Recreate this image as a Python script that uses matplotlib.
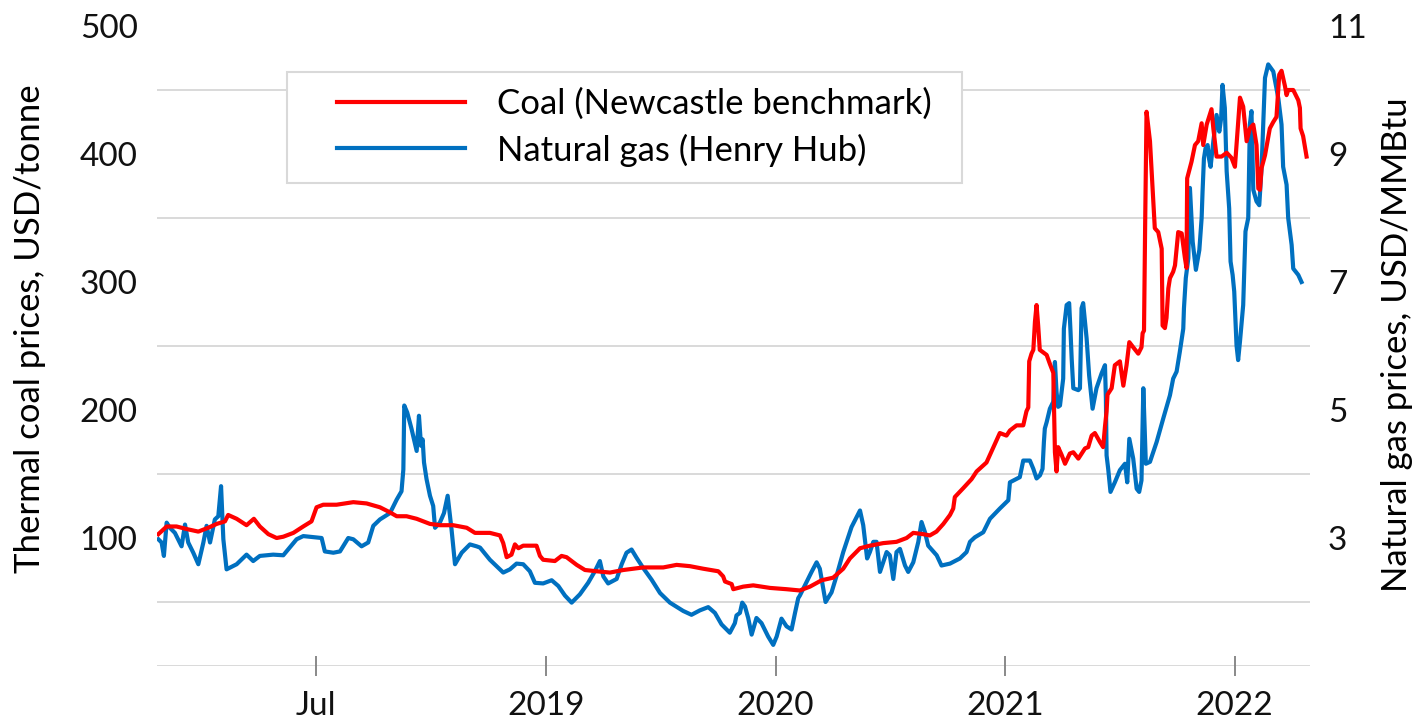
import matplotlib
matplotlib.use("Agg")
import matplotlib.pyplot as plt
from matplotlib.lines import Line2D
from matplotlib.patches import Rectangle
from matplotlib.ticker import FixedLocator

plt.rcParams['font.family'] = ['Lato', 'DejaVu Sans']

# ---------------- data ----------------
gas_year = [
    2017.312, 2017.326, 2017.336, 2017.348, 2017.362, 2017.384, 2017.413, 2017.428, 2017.442, 2017.464,
    2017.486, 2017.508, 2017.522, 2017.537, 2017.558, 2017.573, 2017.585, 2017.595, 2017.609, 2017.653,
    2017.696, 2017.725, 2017.754, 2017.812, 2017.856, 2017.914, 2017.943, 2018.023, 2018.037, 2018.074,
    2018.103, 2018.139, 2018.161, 2018.197, 2018.226, 2018.248, 2018.277, 2018.321, 2018.350, 2018.371,
    2018.379, 2018.383, 2018.396, 2018.415, 2018.437, 2018.447, 2018.456, 2018.463, 2018.469, 2018.480,
    2018.495, 2018.509, 2018.517, 2018.538, 2018.556, 2018.572, 2018.589, 2018.604, 2018.633, 2018.669,
    2018.698, 2018.713, 2018.756, 2018.814, 2018.843, 2018.872, 2018.901, 2018.930, 2018.952, 2018.988,
    2019.025, 2019.054, 2019.083, 2019.112, 2019.148, 2019.184, 2019.213, 2019.235, 2019.250, 2019.271,
    2019.308, 2019.330, 2019.351, 2019.373, 2019.395, 2019.424, 2019.460, 2019.497, 2019.540, 2019.598,
    2019.634, 2019.671, 2019.707, 2019.736, 2019.765, 2019.801, 2019.823, 2019.830, 2019.845, 2019.855,
    2019.867, 2019.881, 2019.896, 2019.917, 2019.939, 2019.968, 2019.990, 2020.005, 2020.026, 2020.048,
    2020.070, 2020.085, 2020.099, 2020.106, 2020.135, 2020.157, 2020.179, 2020.193, 2020.208, 2020.218,
    2020.244, 2020.266, 2020.295, 2020.331, 2020.368, 2020.382, 2020.399, 2020.411, 2020.426, 2020.440,
    2020.455, 2020.469, 2020.484, 2020.498, 2020.513, 2020.527, 2020.542, 2020.564, 2020.578, 2020.600,
    2020.622, 2020.636, 2020.651, 2020.665, 2020.702, 2020.723, 2020.760, 2020.803, 2020.832, 2020.847,
    2020.868, 2020.905, 2020.934, 2020.977, 2021.014, 2021.021, 2021.064, 2021.079, 2021.108, 2021.123,
    2021.137, 2021.152, 2021.163, 2021.169, 2021.173, 2021.181, 2021.195, 2021.210, 2021.217, 2021.224,
    2021.231, 2021.239, 2021.253, 2021.256, 2021.268, 2021.279, 2021.285, 2021.290, 2021.297, 2021.319,
    2021.326, 2021.333, 2021.340, 2021.355, 2021.366, 2021.381, 2021.398, 2021.420, 2021.435, 2021.439,
    2021.442, 2021.449, 2021.459, 2021.478, 2021.500, 2021.522, 2021.532, 2021.541, 2021.558, 2021.573,
    2021.584, 2021.594, 2021.602, 2021.613, 2021.631, 2021.660, 2021.689, 2021.718, 2021.732, 2021.747,
    2021.761, 2021.776, 2021.779, 2021.787, 2021.798, 2021.805, 2021.817, 2021.831, 2021.846, 2021.856,
    2021.860, 2021.866, 2021.873, 2021.882, 2021.888, 2021.895, 2021.907, 2021.921, 2021.933, 2021.941,
    2021.947, 2021.957, 2021.965, 2021.976, 2021.982, 2021.991, 2021.998, 2022.008, 2022.015, 2022.023,
    2022.037, 2022.047, 2022.059, 2022.066, 2022.073, 2022.081, 2022.095, 2022.107, 2022.117, 2022.132,
    2022.146, 2022.168, 2022.190, 2022.204, 2022.211, 2022.226, 2022.233, 2022.248, 2022.255, 2022.277,
    2022.291,
]
gas_price = [
    2.98, 2.93, 2.72, 3.24, 3.16, 3.08, 2.87, 3.21, 2.93, 2.77,
    2.59, 2.93, 3.19, 2.93, 3.29, 3.34, 3.81, 2.98, 2.51, 2.59,
    2.74, 2.64, 2.72, 2.74, 2.73, 2.98, 3.03, 3.00, 2.79, 2.77,
    2.79, 3.00, 2.98, 2.87, 2.93, 3.19, 3.29, 3.39, 3.60, 3.73,
    4.07, 5.07, 4.96, 4.70, 4.36, 4.91, 4.44, 4.54, 4.18, 3.92,
    3.66, 3.50, 3.16, 3.24, 3.39, 3.66, 3.13, 2.59, 2.77, 2.90,
    2.87, 2.85, 2.66, 2.46, 2.51, 2.60, 2.59, 2.48, 2.30, 2.29,
    2.34, 2.25, 2.10, 1.99, 2.12, 2.30, 2.48, 2.64, 2.40, 2.29,
    2.36, 2.59, 2.77, 2.82, 2.69, 2.53, 2.35, 2.14, 1.99, 1.86,
    1.80, 1.87, 1.92, 1.83, 1.65, 1.52, 1.67, 1.79, 1.83, 1.99,
    1.93, 1.75, 1.49, 1.75, 1.67, 1.46, 1.33, 1.46, 1.74, 1.62,
    1.57, 1.83, 2.06, 2.10, 2.31, 2.47, 2.62, 2.52, 2.21, 2.00,
    2.15, 2.41, 2.78, 3.17, 3.43, 3.20, 2.68, 2.78, 2.94, 2.94,
    2.47, 2.62, 2.78, 2.73, 2.36, 2.78, 2.83, 2.57, 2.47, 2.62,
    2.94, 3.25, 3.09, 2.88, 2.73, 2.57, 2.60, 2.68, 2.78, 2.94,
    3.01, 3.09, 3.30, 3.46, 3.59, 3.87, 3.95, 4.21, 4.21, 4.08,
    3.93, 3.98, 4.08, 4.50, 4.71, 4.81, 5.02, 5.13, 5.75, 5.28,
    5.05, 5.07, 5.49, 6.27, 6.64, 6.67, 6.22, 5.80, 5.34, 5.31,
    5.34, 6.59, 6.67, 6.12, 5.54, 5.02, 5.34, 5.57, 5.70, 5.18,
    4.29, 4.08, 3.72, 3.87, 4.06, 4.16, 3.87, 4.55, 4.24, 3.77,
    3.72, 3.90, 5.34, 4.16, 4.19, 4.50, 4.87, 5.23, 5.49, 5.60,
    5.91, 6.27, 6.59, 7.06, 7.37, 8.47, 7.63, 7.19, 7.50, 8.00,
    8.41, 8.93, 9.09, 9.14, 8.93, 8.80, 9.20, 9.61, 9.35, 9.56,
    10.08, 9.72, 8.73, 8.15, 7.32, 7.11, 6.85, 6.01, 5.78, 6.07,
    6.64, 7.79, 8.00, 9.46, 9.67, 8.44, 8.26, 8.20, 8.78, 10.19,
    10.40, 10.29, 9.87, 9.46, 8.80, 8.52, 8.00, 7.58, 7.21, 7.11,
    7.00,
]

coal_year = [
    2017.312, 2017.348, 2017.391, 2017.435, 2017.486, 2017.529, 2017.566, 2017.602, 2017.616, 2017.653,
    2017.696, 2017.728, 2017.754, 2017.791, 2017.827, 2017.856, 2017.900, 2017.943, 2017.979, 2018.001,
    2018.030, 2018.088, 2018.161, 2018.219, 2018.277, 2018.321, 2018.350, 2018.393, 2018.437, 2018.495,
    2018.538, 2018.596, 2018.655, 2018.691, 2018.756, 2018.800, 2018.814, 2018.829, 2018.850, 2018.865,
    2018.880, 2018.901, 2018.959, 2018.974, 2018.988, 2019.039, 2019.068, 2019.090, 2019.134, 2019.170,
    2019.221, 2019.279, 2019.337, 2019.424, 2019.511, 2019.569, 2019.627, 2019.685, 2019.751, 2019.772,
    2019.780, 2019.809, 2019.816, 2019.859, 2019.903, 2019.976, 2020.048, 2020.106, 2020.150, 2020.201,
    2020.251, 2020.295, 2020.324, 2020.368, 2020.411, 2020.469, 2020.527, 2020.571, 2020.600, 2020.643,
    2020.672, 2020.701, 2020.731, 2020.760, 2020.774, 2020.781, 2020.818, 2020.854, 2020.876, 2020.919,
    2020.934, 2020.956, 2020.977, 2021.006, 2021.021, 2021.050, 2021.079, 2021.093, 2021.101, 2021.105,
    2021.115, 2021.123, 2021.130, 2021.137, 2021.144, 2021.151, 2021.181, 2021.195, 2021.210, 2021.217,
    2021.224, 2021.231, 2021.246, 2021.261, 2021.282, 2021.297, 2021.319, 2021.348, 2021.362, 2021.377,
    2021.391, 2021.413, 2021.427, 2021.435, 2021.442, 2021.446, 2021.464, 2021.478, 2021.500, 2021.515,
    2021.529, 2021.541, 2021.558, 2021.580, 2021.594, 2021.599, 2021.605, 2021.610, 2021.616, 2021.631,
    2021.645, 2021.652, 2021.667, 2021.682, 2021.686, 2021.696, 2021.703, 2021.711, 2021.718, 2021.732,
    2021.740, 2021.754, 2021.769, 2021.783, 2021.790, 2021.793, 2021.812, 2021.827, 2021.841, 2021.856,
    2021.863, 2021.878, 2021.899, 2021.907, 2021.921, 2021.943, 2021.965, 2021.986, 2022.001, 2022.023,
    2022.037, 2022.052, 2022.066, 2022.081, 2022.095, 2022.103, 2022.110, 2022.117, 2022.132, 2022.153,
    2022.168, 2022.182, 2022.194, 2022.204, 2022.219, 2022.226, 2022.233, 2022.255, 2022.277, 2022.284,
    2022.287, 2022.298, 2022.313,
]
coal_price = [
    103, 109, 109, 107, 105, 108, 111, 113, 118, 115,
    110, 115, 109, 103, 100, 101, 104, 109, 113, 124,
    126, 126, 128, 127, 124, 120, 117, 117, 115, 111,
    110, 110, 108, 104, 104, 102, 96, 85, 87, 95,
    92, 94, 94, 86, 83, 82, 86, 85, 79, 75,
    74, 73, 75, 77, 77, 79, 78, 76, 74, 70,
    66, 64, 60, 62, 63, 61, 60, 59, 62, 67,
    69, 76, 84, 92, 94, 96, 97, 100, 104, 103,
    102, 105, 111, 118, 123, 132, 139, 146, 152, 159,
    165, 174, 182, 180, 184, 188, 188, 199, 202, 238,
    244, 247, 269, 282, 266, 247, 243, 236, 229, 167,
    152, 171, 165, 158, 166, 167, 162, 170, 171, 180,
    182, 175, 171, 187, 199, 212, 217, 235, 238, 219,
    235, 253, 249, 244, 249, 260, 262, 345, 433, 410,
    365, 342, 339, 326, 266, 264, 272, 295, 303, 308,
    313, 339, 338, 319, 311, 381, 394, 407, 410, 424,
    407, 423, 435, 420, 398, 398, 401, 397, 390, 444,
    437, 410, 420, 423, 407, 373, 372, 389, 399, 420,
    425, 429, 462, 465, 453, 446, 450, 450, 442, 436,
    420, 414, 398,
]

coal_label = "Coal (Newcastle benchmark)"
gas_label = "Natural gas (Henry Hub)"
left_ylabel = "Thermal coal prices, USD/tonne"
right_ylabel = "Natural gas prices, USD/MMBtu"
x_tick_pos = [2018.0, 2019.0, 2020.0, 2021.0, 2022.0]
x_tick_labels = ["Jul", "2019", "2020", "2021", "2022"]
left_ticks = [100, 200, 300, 400, 500]
right_ticks = [3, 5, 7, 9, 11]
grid_levels_gas = [1, 2, 3, 4, 5, 6, 7, 8, 9, 10, 11]

# ---------------- styling ----------------
RED = "#FF0000"
BLUE = "#0070C0"
GRID = "#d9d9d9"
TXT = "#111111"
FS = 24

fig = plt.figure(figsize=(14.14, 7.22), dpi=100)
ax = fig.add_axes([157 / 1414, 56 / 722, (1310 - 157) / 1414, (666 - 26) / 722])
ax2 = ax.twinx()

# ax2 (gas) behind, ax (coal) in front
ax.set_zorder(ax2.get_zorder() + 1)
ax.patch.set_visible(False)

ax2.plot(gas_year, gas_price, color=BLUE, lw=3.0, solid_joinstyle='round', zorder=3)
ax.plot(coal_year, coal_price, color=RED, lw=3.0, solid_joinstyle='round', zorder=3)

ax.set_xlim(2017.306, 2022.328)
ax.set_ylim(0, 500)
ax2.set_ylim(1, 11)

# grid drawn on the back axis
ax2.yaxis.set_minor_locator(FixedLocator(grid_levels_gas))
ax2.grid(True, which='minor', axis='y', color=GRID, lw=1.4, zorder=0)
ax2.grid(False, which='major')
ax2.set_axisbelow(True)

for a in (ax, ax2):
    for s in a.spines.values():
        s.set_visible(False)

ax.set_yticks(left_ticks)
ax.tick_params(axis='y', length=0, pad=14, labelsize=FS, colors=TXT)
ax2.set_yticks(right_ticks)
ax2.tick_params(axis='y', which='both', length=0, pad=13, labelsize=FS, colors=TXT)

ax.set_xticks(x_tick_pos)
ax.set_xticklabels(x_tick_labels)
ax.tick_params(axis='x', direction='inout', length=14, width=1.3, color='#808080',
               labelsize=FS, labelcolor=TXT, pad=11)

# axis titles
fig.text(30 / 1414, 1 - 329 / 722, left_ylabel, fontsize=25, color='#000000',
         rotation=90, ha='center', va='center')
fig.text(1397 / 1414, 1 - 345 / 722, right_ylabel, fontsize=25, color='#000000',
         rotation=90, ha='center', va='center')

# legend box
fig.patches.append(Rectangle((287 / 1414, 1 - 183 / 722), (962 - 287) / 1414, (183 - 72) / 722,
                             transform=fig.transFigure, facecolor='white', edgecolor=GRID,
                             lw=1.5, zorder=10))
handles = [Line2D([], [], color=RED, lw=3.0), Line2D([], [], color=BLUE, lw=3.0)]
leg = fig.legend(handles, [coal_label, gas_label], loc='upper left',
                 bbox_to_anchor=(337 / 1414, 1 - 88 / 722), frameon=False,
                 fontsize=25, handlelength=3.7, handletextpad=0.92,
                 labelspacing=0.38, borderpad=0, borderaxespad=0)
for t in leg.get_texts():
    t.set_color('#000000')
leg.set_zorder(11)

fig.savefig("out.png", dpi=100)
